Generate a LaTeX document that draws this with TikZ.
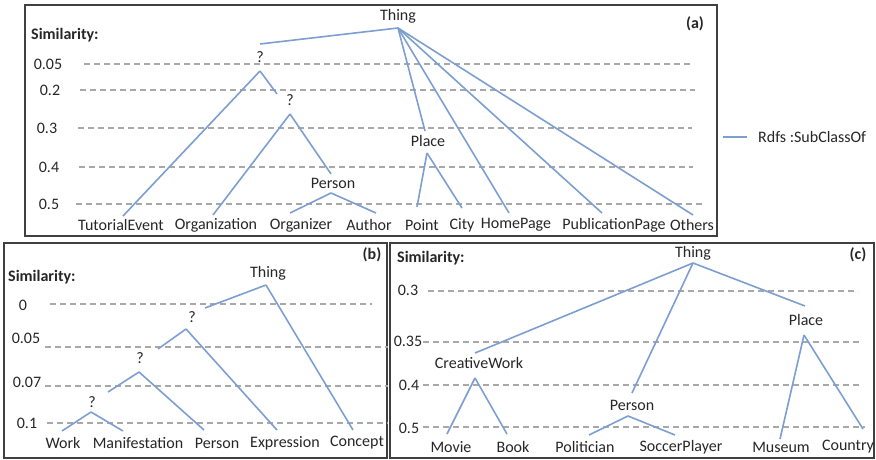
\documentclass[tikz,border=0pt]{standalone}
\usepackage{fontspec}
\setmainfont{Carlito}
\definecolor{linkblue}{RGB}{124,158,208}
\definecolor{guidegray}{RGB}{168,168,168}
\tikzset{
  sub/.style={draw=linkblue, line width=1.6pt},
  guide/.style={draw=guidegray, line width=1.3pt, dash pattern=on 6pt off 4pt},
  panel/.style={draw=black!75, line width=1.8pt},
  lbl/.style={inner sep=0pt, text=black!85, font=\fontsize{16}{19}\selectfont},
  hdr/.style={inner sep=0pt, text=black!85, font=\fontsize{16}{19}\selectfont\bfseries},
}

\begin{document}
\begin{tikzpicture}[x=1pt,y=-1pt]
\useasboundingbox (0,0) rectangle (876,460);
%% panel (a)
\draw[panel] (25,5) rectangle (717,236);
\node[hdr,anchor=west] (SA) at (31,35) {Similarity:};
\node[hdr] (LA) at (695,24) {(a)};
\foreach \x/\y/\v/\xs/\xe [count=\i] in {48/64/0.05/84/692, 50/90/0.2/80/695, 47/128/0.3/78/692, 49/167/0.4/79/693, 49/204/0.5/76/705}{
	\node[lbl] (VA\i) at (\x,\y) {\v};
	\coordinate (GA\i) at (\xs,\y);
	\coordinate (HA\i) at (\xe,\y);
	\draw[guide] (GA\i)--(HA\i);
}
\foreach \x/\t [count=\i] in {121/TutorialEvent, 216/Organization, 301/Organizer, 369/Author, 422/Point, 462/City, 516/HomePage, 614/PublicationPage, 692/Others}
	\node[lbl] (KA\i) at (\x,225) {\t};
\node[lbl] (TA) at (398,16) {Thing};
\node[lbl] (QA1) at (260,57) {?};
\node[lbl] (QA2) at (290,100) {?};
\node[lbl] (PA) at (333,183) {Person};
\node[lbl] (CA) at (428,141) {Place};
\coordinate (TAB) at (398,28);
\coordinate (QA1B) at (260,71);
\coordinate (QA2B) at (290,114);
\coordinate (PAB) at (331,193);
\coordinate (CAB) at (427,153);
%\coordinate (TAZ) at (398,40);
\draw[sub] (TAB)--(260,44);
\draw[sub] (TAB)--(425,131);
\draw[sub] (TAB)--(509,213);
\draw[sub] (TAB)--(602,213);
\draw[sub] (TAB)--(693,215);
\draw[sub] (QA1B)--(123,216);
\draw[sub] (QA1B)--(277,94);
\draw[sub] (QA2B)--(213,215);
\draw[sub] (QA2B)--(331,174);
\draw[sub] (PAB)--(290,213);
\draw[sub] (PAB)--(376,213);
\draw[sub] (CAB)--(417,207);
\draw[sub] (CAB)--(462,208);
% legend
\coordinate (RA) at (723,137);
\coordinate (RB) at (747,137);
\draw[sub] (RA)--(RB);
\node[lbl,anchor=west] (RT) at (758,137) {Rdfs :SubClassOf};
%% panel (b)
\begin{scope}
	\draw[panel] (4,243) rectangle (387,458);
	\node[hdr,anchor=west] (SB) at (8,277) {Similarity:};
	\node[hdr] (LB) at (372,255) {(b)};
	\foreach \x/\ly/\y/\v/\xs/\xe [count=\i] in {23/305/304/0/50/372, 26/338/347/0.05/45/388, 27/382/386/0.07/45/388, 27/423/423/0.1/47/388}{
		\node[lbl] (VB\i) at (\x,\ly) {\v};
		\coordinate (GB\i) at (\xs,\y);
		\coordinate (HB\i) at (\xe,\y);
		\draw[guide] (GB\i)--(HB\i);
	}
	\foreach \x/\t [count=\i] in {63/Work, 138/Manifestation, 217/Person, 285/Expression, 357/Concept}
		\node[lbl] (KB\i) at (\x,443) {\t};
	\node[lbl] (TB) at (268,273) {Thing};
	\node[lbl] (QB1) at (192,317) {?};
	\node[lbl] (QB2) at (140,358) {?};
	\node[lbl] (QB3) at (92,402) {?};
	\coordinate (TBB) at (266,285);
	\coordinate (QB1B) at (186,329);
	\coordinate (QB2B) at (139,372);
	\coordinate (QB3B) at (91,412);
	\draw[sub] (TBB)--(205,308);
	\draw[sub] (TBB)--(353,430);
	\draw[sub] (QB1B)--(158,349);
	\draw[sub] (QB1B)--(277,430);
	\draw[sub] (QB2B)--(108,392);
	\draw[sub] (QB2B)--(204,430);
	\draw[sub] (QB3B)--(62,431);
	\draw[sub] (QB3B)--(123,431);
\end{scope}
%% panel (c)
\begin{scope}
	\draw[panel] (390,243) rectangle (874,458);
	\node[hdr,anchor=west] (SC) at (397,258) {Similarity:};
	\node[hdr] (LC) at (858,255) {(c)};
	\foreach \x/\ly/\y/\v/\xs/\xe [count=\i] in {408/290/291/0.3/428/858, 408/341/342/0.35/423/860, 409/385/385/0.4/423/860, 409/428/427/0.5/423/865}{
		\node[lbl] (VC\i) at (\x,\ly) {\v};
		\coordinate (GC\i) at (\xs,\y);
		\coordinate (HC\i) at (\xe,\y);
		\draw[guide] (GC\i)--(HC\i);
	}
	\foreach \x/\t [count=\i] in {451/Movie, 513/Book, 585/Politician, 681/SoccerPlayer, 781/Museum, 848/Country}
		\node[lbl] (KC\i) at (\x,447) {\t};
	\node[lbl] (TC) at (693,253) {Thing};
	\node[lbl] (WC) at (479,363) {CreativeWork};
	\node[lbl] (PC) at (632,405) {Person};
	\node[lbl] (CC) at (806,320) {Place};
	\coordinate (TCB) at (693,263);
	\coordinate (WCB) at (475,378);
	\coordinate (PCB) at (628,416);
	\coordinate (CCB) at (804,335);
	\draw[sub] (TCB)--(475,353);
	\draw[sub] (TCB)--(632,393);
	\draw[sub] (TCB)--(805,306);
	\draw[sub] (WCB)--(447,434);
	\draw[sub] (WCB)--(507,434);
	\draw[sub] (PCB)--(589,435);
	\draw[sub] (PCB)--(675,435);
	\draw[sub] (CCB)--(780,439);
	\draw[sub] (CCB)--(863,429);
\end{scope}
\end{tikzpicture}
\end{document}
